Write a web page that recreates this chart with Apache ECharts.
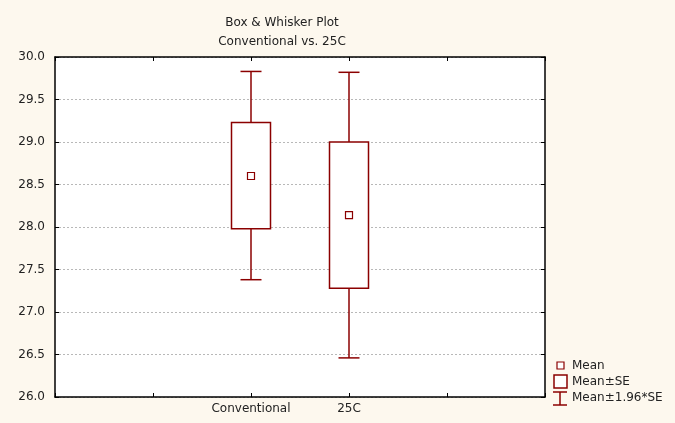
<!DOCTYPE html>
<html>
<head>
<meta charset="utf-8">
<script src="https://cdn.jsdelivr.net/npm/echarts@6/dist/echarts.min.js"></script>
<style>
  html, body { margin: 0; padding: 0; background: #fdf8ee; }
  #chart { width: 675px; height: 423px; }
</style>
</head>
<body>
<div id="chart"></div>
<script>
// Category slots along the x axis (empty slots pad the frame on both sides)
const categories = ['', '', 'Conventional', '25C', '', ''];
const groupNames = ['Conventional', '25C'];
const groupSlots = [2, 3];

// Per-group statistics
const means      = [28.60, 28.14];
const seLow      = [27.98, 27.28];   // Mean - SE
const seHigh     = [29.23, 29.00];   // Mean + SE
const ciLow      = [27.38, 26.46];   // Mean - 1.96*SE
const ciHigh     = [29.83, 29.82];   // Mean + 1.96*SE

const yTicks = { min: 26, max: 30, interval: 0.5 };

const RED = '#8b0000';
const FONT = '"DejaVu Sans", Arial, sans-serif';
const FSIZE = 12;

const seriesData = groupNames.map((name, i) => [groupSlots[i], ciLow[i], seLow[i], means[i], seHigh[i], ciHigh[i]]);

function renderBox(params, api) {
  const slot = api.value(0);
  const pLow = api.coord([slot, api.value(1)]);
  const pBoxLow = api.coord([slot, api.value(2)]);
  const pMean = api.coord([slot, api.value(3)]);
  const pBoxHigh = api.coord([slot, api.value(4)]);
  const pHigh = api.coord([slot, api.value(5)]);
  const x = pMean[0];
  const boxHalf = 19.5;
  const capHalf = 10.5;
  const m = 3.5;
  const lineStyle = { stroke: RED, lineWidth: 1.5, fill: null };
  return {
    type: 'group',
    children: [
      { type: 'line', shape: { x1: x, y1: pLow[1], x2: x, y2: pBoxLow[1] }, style: lineStyle },
      { type: 'line', shape: { x1: x, y1: pBoxHigh[1], x2: x, y2: pHigh[1] }, style: lineStyle },
      { type: 'line', shape: { x1: x - capHalf, y1: pLow[1], x2: x + capHalf, y2: pLow[1] }, style: lineStyle },
      { type: 'line', shape: { x1: x - capHalf, y1: pHigh[1], x2: x + capHalf, y2: pHigh[1] }, style: lineStyle },
      { type: 'rect', shape: { x: x - boxHalf, y: pBoxHigh[1], width: boxHalf * 2, height: pBoxLow[1] - pBoxHigh[1] },
        style: { stroke: RED, lineWidth: 1.5, fill: '#ffffff' } },
      { type: 'rect', shape: { x: x - m, y: pMean[1] - m, width: m * 2, height: m * 2 },
        style: { stroke: RED, lineWidth: 1.2, fill: '#ffffff' } }
    ]
  };
}

const chart = echarts.init(document.getElementById('chart'), null, { renderer: 'canvas' });

const axisLine = { show: true, lineStyle: { color: '#000', width: 1.5 } };
const tickStyle = { show: true, inside: true, length: 4, lineStyle: { color: '#000', width: 1 } };

chart.setOption({
  backgroundColor: '#fdf8ee',
  animation: false,
  title: {
    text: 'Box & Whisker Plot',
    subtext: 'Conventional vs. 25C',
    left: 277,
    top: 12,
    textAlign: 'center',
    itemGap: 7,
    textStyle: { fontFamily: FONT, fontSize: FSIZE, fontWeight: 'normal', color: '#222' },
    subtextStyle: { fontFamily: FONT, fontSize: FSIZE, color: '#222' }
  },
  grid: { left: 55, right: 130, top: 57, bottom: 26, show: true, backgroundColor: '#ffffff', borderWidth: 0 },
  xAxis: [
    {
      type: 'category', data: categories, boundaryGap: false, position: 'bottom',
      axisLine: axisLine, axisTick: Object.assign({ interval: 0 }, tickStyle),
      axisLabel: { interval: 0, fontFamily: FONT, fontSize: FSIZE, color: '#222', margin: 6 },
      splitLine: { show: false }
    },
    {
      type: 'category', data: categories, boundaryGap: false, position: 'top',
      axisLine: axisLine, axisTick: Object.assign({ interval: 0 }, tickStyle),
      axisLabel: { show: false }, splitLine: { show: false }
    }
  ],
  yAxis: [
    {
      type: 'value', min: yTicks.min, max: yTicks.max, interval: yTicks.interval, position: 'left',
      axisLine: axisLine, axisTick: tickStyle,
      axisLabel: { formatter: v => v.toFixed(1), fontFamily: FONT, fontSize: FSIZE, color: '#222', margin: 10 },
      splitLine: { show: true, lineStyle: { color: '#b8b8b8', type: [2, 2], width: 1 } }
    },
    {
      type: 'value', min: yTicks.min, max: yTicks.max, interval: yTicks.interval, position: 'right',
      axisLine: axisLine, axisTick: tickStyle, axisLabel: { show: false }, splitLine: { show: false }
    }
  ],
  series: [{
    type: 'custom',
    xAxisIndex: 0,
    yAxisIndex: 0,
    renderItem: renderBox,
    encode: { x: 0, y: [1, 2, 3, 4, 5] },
    data: seriesData,
    z: 10
  }],
  graphic: [
    // Legend: Mean
    { type: 'rect', shape: { x: 557, y: 362, width: 7, height: 7 }, style: { stroke: RED, lineWidth: 1.2, fill: '#ffffff' } },
    { type: 'text', x: 572, y: 365.5, style: { text: 'Mean', font: FSIZE + 'px ' + FONT, fill: '#222', textVerticalAlign: 'middle' } },
    // Legend: Mean±SE
    { type: 'rect', shape: { x: 554, y: 375, width: 13, height: 13 }, style: { stroke: RED, lineWidth: 1.5, fill: '#ffffff' } },
    { type: 'text', x: 572, y: 381.5, style: { text: 'Mean±SE', font: FSIZE + 'px ' + FONT, fill: '#222', textVerticalAlign: 'middle' } },
    // Legend: Mean±1.96*SE
    { type: 'line', shape: { x1: 553, y1: 392, x2: 567, y2: 392 }, style: { stroke: RED, lineWidth: 1.5 } },
    { type: 'line', shape: { x1: 560, y1: 392, x2: 560, y2: 405 }, style: { stroke: RED, lineWidth: 1.5 } },
    { type: 'line', shape: { x1: 553, y1: 405, x2: 567, y2: 405 }, style: { stroke: RED, lineWidth: 1.5 } },
    { type: 'text', x: 572, y: 397.5, style: { text: 'Mean±1.96*SE', font: FSIZE + 'px ' + FONT, fill: '#222', textVerticalAlign: 'middle' } }
  ]
});
</script>
</body>
</html>
